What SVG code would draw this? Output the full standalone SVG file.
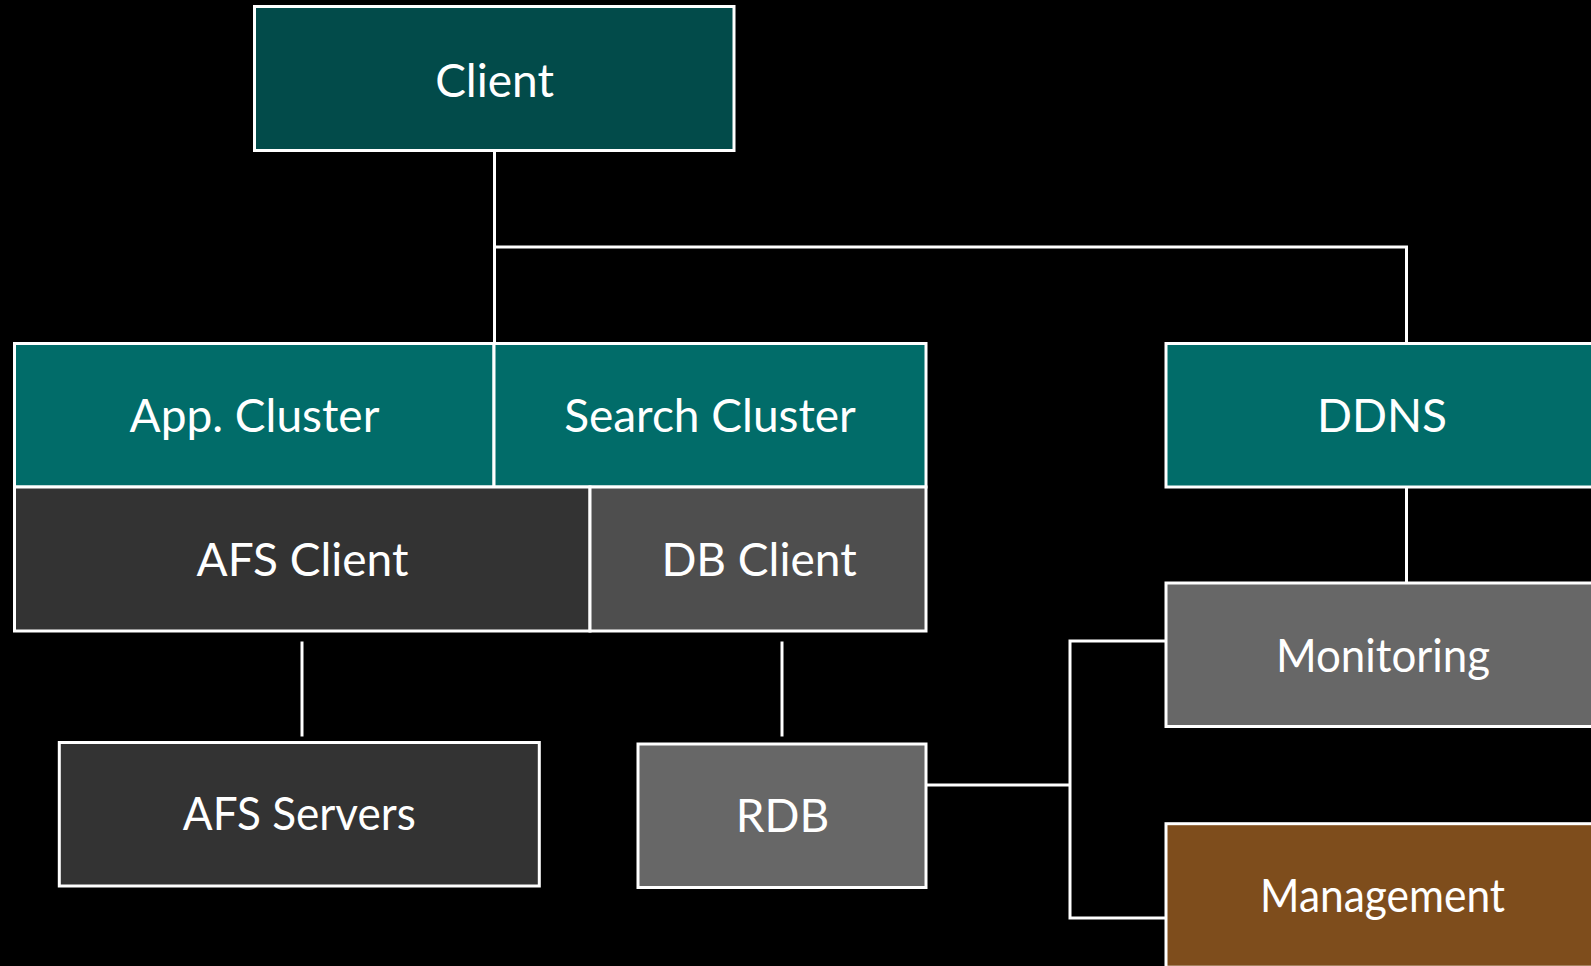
<svg xmlns="http://www.w3.org/2000/svg" width="1591" height="966" viewBox="0 0 1591 966">
  <style>
    .box { stroke: #ffffff; stroke-width: 3; }
    .lbl { font-family: Lato, "Liberation Sans", sans-serif; font-size: 46px; fill: #ffffff; text-anchor: middle; }
    .wire { fill: none; stroke: #ffffff; stroke-width: 3; }
    .teal-dark { fill: #024b4a; }
    .teal { fill: #016c69; }
    .grey-dark { fill: #333333; }
    .grey-mid { fill: #4e4e4e; }
    .grey { fill: #676767; }
    .brown { fill: #7e4d1c; }
  </style>
  <rect x="0" y="0" width="1591" height="966" fill="#000000"/>

  <!-- connectors -->
  <g id="connectors">
    <path class="wire" d="M494.5 150.5 V343.5"/>
    <path class="wire" d="M494.5 247 H1406.5 V343.5"/>
    <path class="wire" d="M1406.5 486.5 V583"/>
    <path class="wire" d="M302 641.5 V736.5"/>
    <path class="wire" d="M782 641.5 V736.5"/>
    <path class="wire" d="M926 785 H1070"/>
    <path class="wire" d="M1166 641 H1070 V918 H1166"/>
  </g>

  <g id="client">
    <rect class="box teal-dark" x="254.5" y="6.5" width="479.5" height="144"/>
    <text class="lbl" x="494.5" y="96.7">Client</text>
  </g>

  <g id="app-cluster">
    <rect class="box teal" x="14.5" y="343.5" width="479.5" height="143.5"/>
    <text class="lbl" x="254.5" y="432">App. Cluster</text>
  </g>

  <g id="search-cluster">
    <rect class="box teal" x="494" y="343.5" width="432" height="143.5"/>
    <text class="lbl" x="710" y="432">Search Cluster</text>
  </g>

  <g id="afs-client">
    <rect class="box grey-dark" x="14.5" y="487" width="575.5" height="144"/>
    <text class="lbl" x="302.5" y="576">AFS Client</text>
  </g>

  <g id="db-client">
    <rect class="box grey-mid" x="590" y="487" width="336" height="144"/>
    <text class="lbl" x="759" y="576">DB Client</text>
  </g>

  <g id="ddns">
    <rect class="box teal" x="1166" y="343.5" width="432" height="143.5"/>
    <text class="lbl" x="1382" y="432">DDNS</text>
  </g>

  <g id="monitoring">
    <rect class="box grey" x="1166" y="583" width="432" height="143.5"/>
    <text class="lbl" x="1383" y="671.7" textLength="214" lengthAdjust="spacingAndGlyphs">Monitoring</text>
  </g>

  <g id="afs-servers">
    <rect class="box grey-dark" x="59.3" y="742.5" width="480" height="143.5"/>
    <text class="lbl" x="299.3" y="830" textLength="233" lengthAdjust="spacingAndGlyphs">AFS Servers</text>
  </g>

  <g id="rdb">
    <rect class="box grey" x="638" y="744" width="288" height="143.5"/>
    <text class="lbl" x="782.5" y="832">RDB</text>
  </g>

  <g id="management">
    <rect class="box brown" x="1166" y="823.7" width="432" height="143.5"/>
    <text class="lbl" x="1382.6" y="911.7" textLength="245" lengthAdjust="spacingAndGlyphs">Management</text>
  </g>
</svg>
